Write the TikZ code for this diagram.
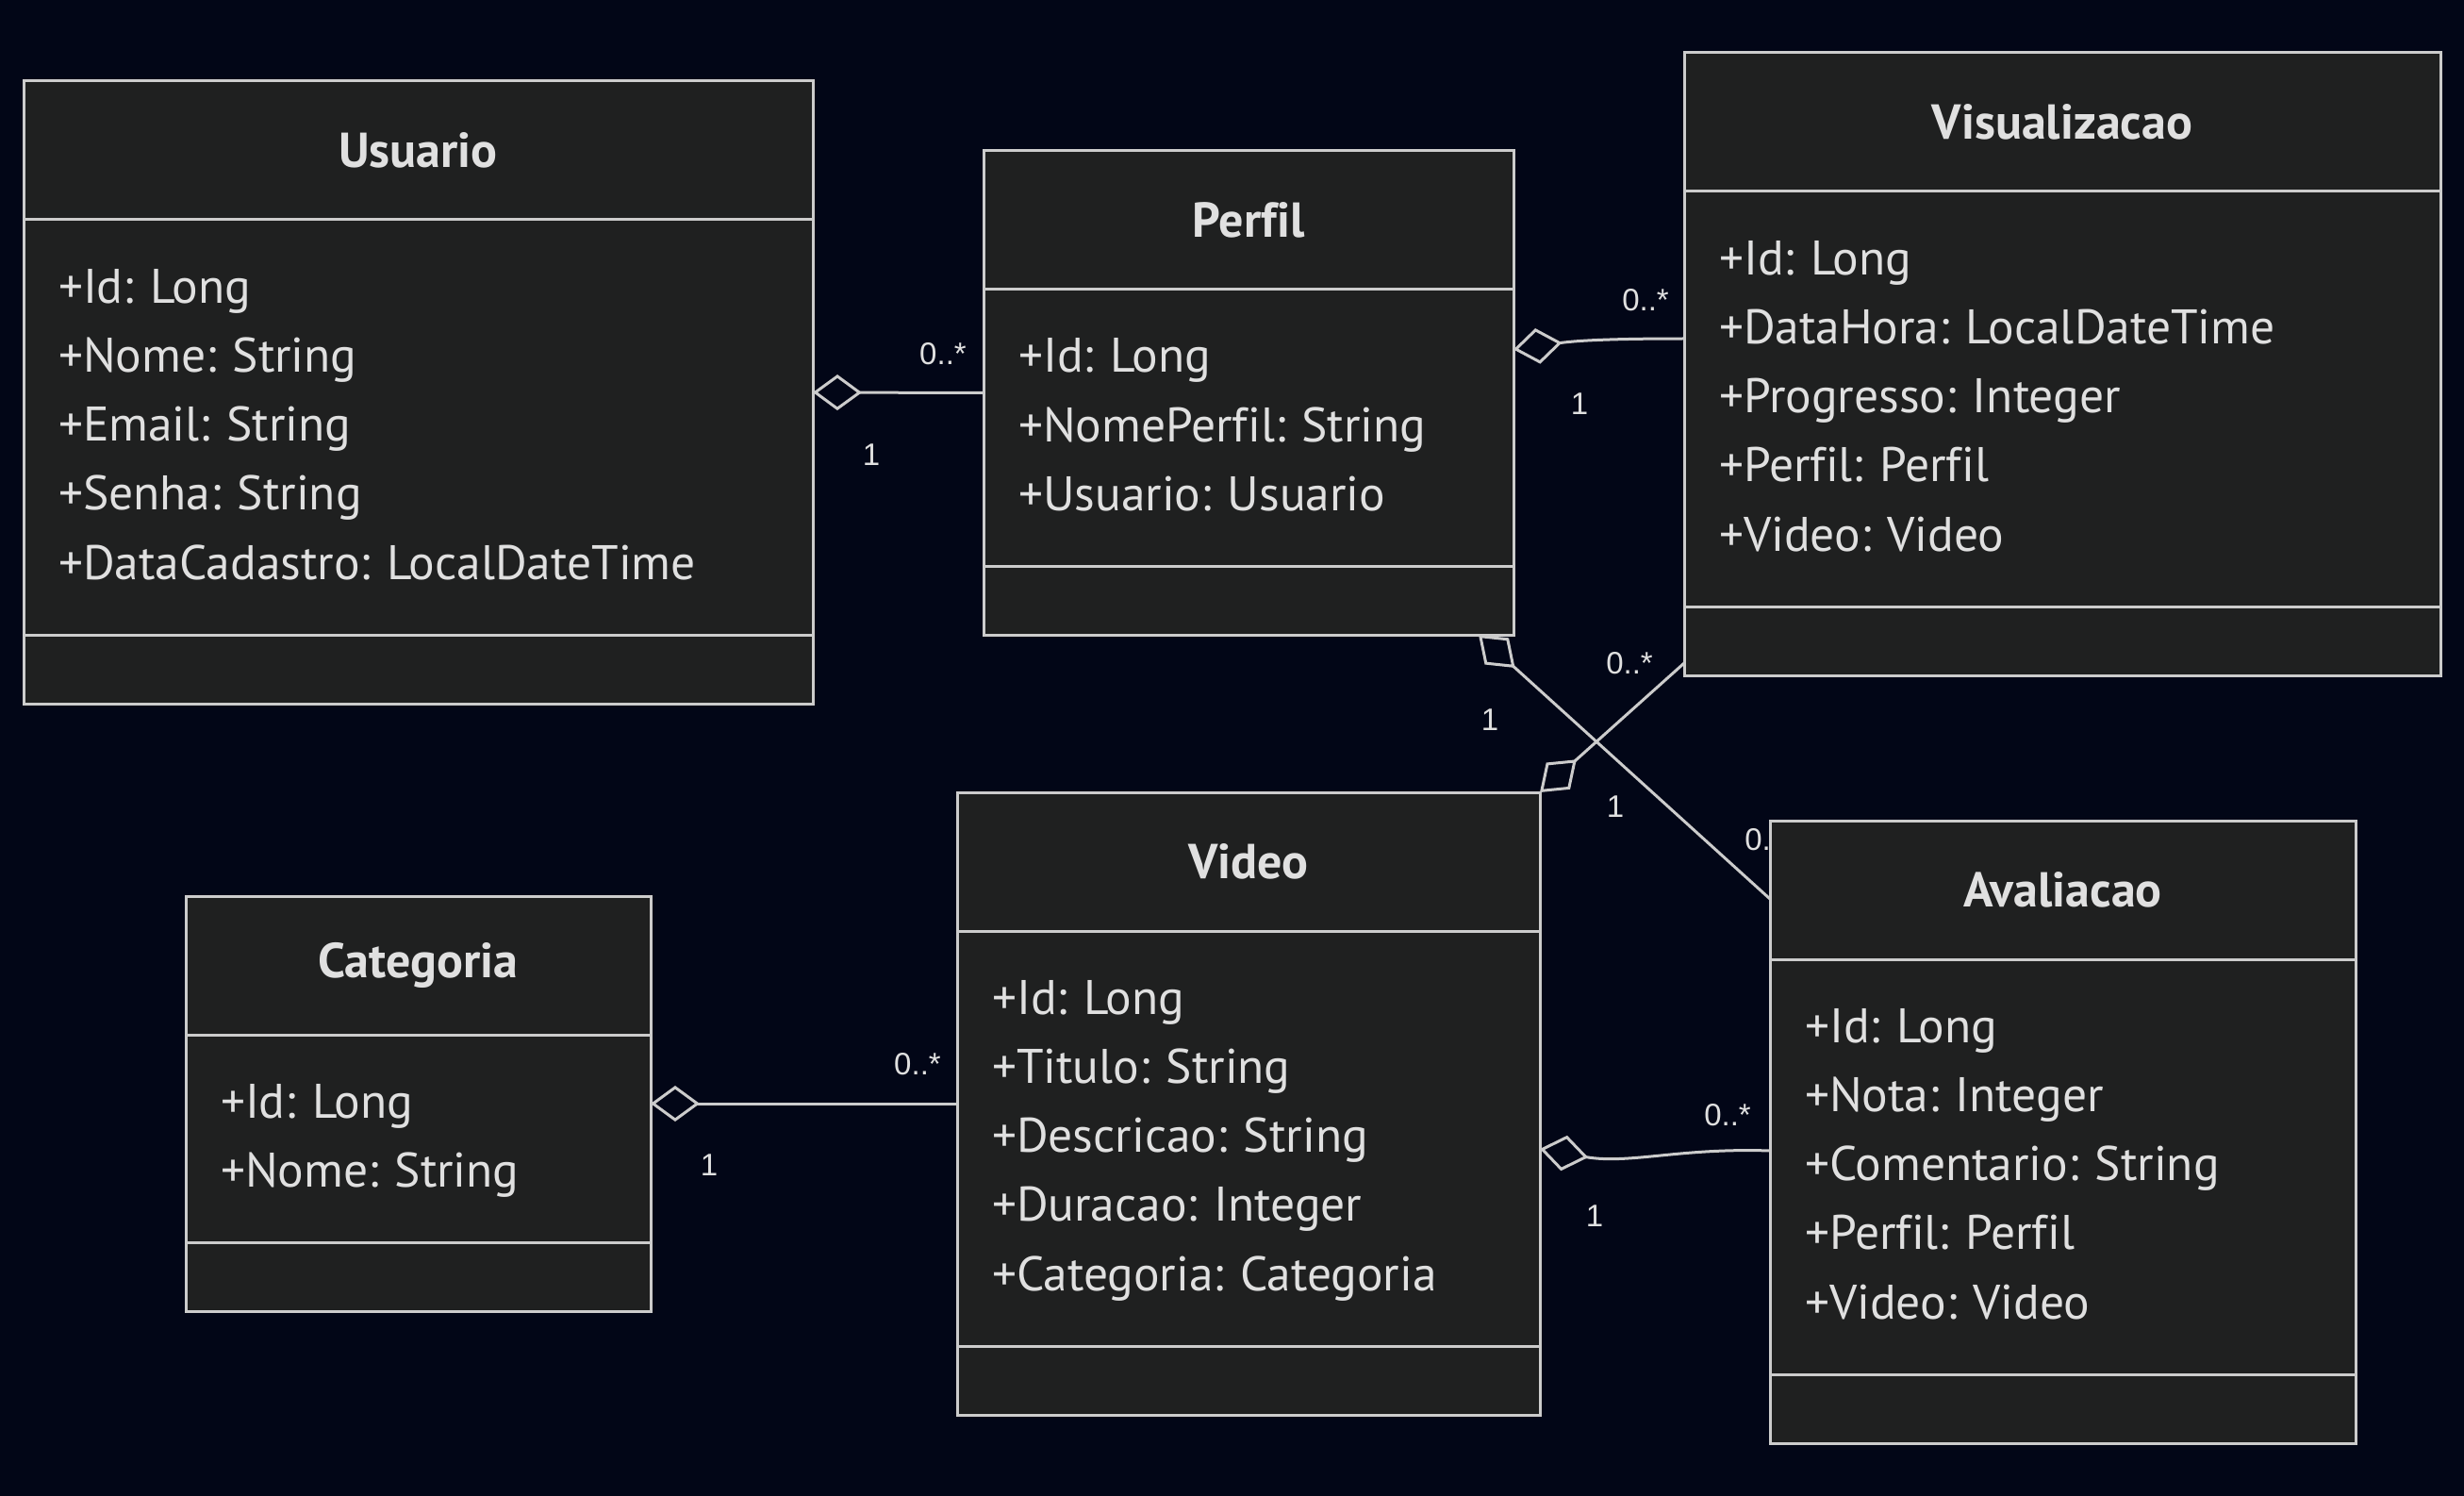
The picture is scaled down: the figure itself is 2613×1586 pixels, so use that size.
\documentclass[tikz,border=0pt]{standalone}
\usepackage{fontspec}
\setmainfont{PT Sans}[Ligatures=NoCommon]
\newfontfamily\cardfont{Liberation Sans}
\usetikzlibrary{arrows.meta}
\definecolor{bgnavy}{HTML}{020617}
\definecolor{boxfill}{HTML}{1F2020}
\definecolor{boxline}{HTML}{CCCCCC}
\definecolor{boxtext}{HTML}{E0E0E0}
\pgfdeclarelayer{backdrop}
\pgfdeclarelayer{links}
\pgfsetlayers{backdrop,links,main}
\frenchspacing

\begin{document}
\begin{tikzpicture}[x=1pt, y=-1pt,
    classbox/.style={draw=boxline, fill=boxfill, line width=3pt, outer sep=0pt, inner sep=0pt},
    classhead/.style={draw=boxline, line width=3pt, outer sep=0pt, anchor=north, minimum height=147pt, text=boxtext, font=\fontsize{52}{60}\selectfont\bfseries},
    classattr/.style={draw=boxline, line width=3pt, outer sep=0pt, anchor=north, inner xsep=37pt, inner ysep=0pt, align=left, text=boxtext, font=\fontsize{51.5}{73.3}\selectfont, execute at begin node=\strut, execute at end node=\strut},
    agg/.style={draw=boxline, line width=3pt, {Diamond[open, length=52pt, width=38pt]}-},
    mult/.style={text=boxtext, font=\cardfont\fontsize{33}{40}\selectfont, inner sep=0pt}]

    \useasboundingbox (0,0) rectangle (2613,1586);
    \begin{pgfonlayer}{backdrop}
        \fill[bgnavy] (0,0) rectangle (2613,1586);
    \end{pgfonlayer}

    \node[classbox, minimum width=837pt, minimum height=660pt] (usuario) at (443.5,416) {};
    \node[classhead, minimum width=837pt] (usuariohead) at (usuario.north) {Usuario};
    \node[classattr, text width=763pt, minimum height=440pt] (usuarioattr) at (usuariohead.south) {+Id: Long\\+Nome: String\\+Email: String\\+Senha: String\\+DataCadastro: LocalDateTime};

    \node[classbox, minimum width=562pt, minimum height=513pt] (perfil) at (1324,416.5) {};
    \node[classhead, minimum width=562pt] (perfilhead) at (perfil.north) {Perfil};
    \node[classattr, text width=488pt, minimum height=293pt] (perfilattr) at (perfilhead.south) {+Id: Long\\+NomePerfil: String\\+Usuario: Usuario};

    \node[classbox, minimum width=802pt, minimum height=660pt] (visualizacao) at (2187,386) {};
    \node[classhead, minimum width=802pt] (visualizacaohead) at (visualizacao.north) {Visualizacao};
    \node[classattr, text width=728pt, minimum height=440pt] (visualizacaoattr) at (visualizacaohead.south) {+Id: Long\\+DataHora: LocalDateTime\\+Progresso: Integer\\+Perfil: Perfil\\+Video: Video};

    \node[classbox, minimum width=618pt, minimum height=660pt] (video) at (1324,1170) {};
    \node[classhead, minimum width=618pt] (videohead) at (video.north) {Video};
    \node[classattr, text width=544pt, minimum height=440pt] (videoattr) at (videohead.south) {+Id: Long\\+Titulo: String\\+Descricao: String\\+Duracao: Integer\\+Categoria: Categoria};

    \node[classbox, minimum width=493pt, minimum height=440pt] (categoria) at (443.5,1170) {};
    \node[classhead, minimum width=493pt] (categoriahead) at (categoria.north) {Categoria};
    \node[classattr, text width=419pt, minimum height=220pt] (categoriaattr) at (categoriahead.south) {+Id: Long\\+Nome: String};

    \node[classbox, minimum width=621pt, minimum height=660pt] (avaliacao) at (2187.5,1200) {};
    \node[classhead, minimum width=621pt] (avaliacaohead) at (avaliacao.north) {Avaliacao};
    \node[classattr, text width=547pt, minimum height=440pt] (avaliacaoattr) at (avaliacaohead.south) {+Id: Long\\+Nota: Integer\\+Comentario: String\\+Perfil: Perfil\\+Video: Video};

    \begin{pgfonlayer}{links}
        \path[agg] (usuario.east) -- (perfil.west);
        \path[agg] ([yshift=46pt]perfil.east) to[out=8, in=180] ([yshift=27pt]visualizacao.west);
        \path[agg] ([xshift=244pt]perfil.south) -- ([yshift=247pt]avaliacao.west);
        \path[agg] (video.north east) -- ([yshift=-317pt]visualizacao.west);
        \path[agg] (categoria.east) -- (video.west);
        \path[agg] ([yshift=-48pt]video.east) to[out=-10, in=178] ([yshift=-20pt]avaliacao.west);

        \node[mult] (usuarioone) at (924,482) {1};
        \node[mult] (perfilmany) at (1000,375) {0..*};
        \node[mult] (perfilone) at (1675,428) {1};
        \node[mult] (visualmany) at (1745,318) {0..*};
        \node[mult] (perfilone2) at (1580,763) {1};
        \node[mult] (avaliacaomany) at (1875,890) {0..*};
        \node[mult] (videoone) at (1713,855) {1};
        \node[mult] (visualmany2) at (1728,703) {0..*};
        \node[mult] (categoriaone) at (752,1235) {1};
        \node[mult] (videomany) at (973,1128) {0..*};
        \node[mult] (videoone2) at (1691,1289) {1};
        \node[mult] (avaliacaomany2) at (1832,1182) {0..*};
    \end{pgfonlayer}

\end{tikzpicture}
\end{document}
